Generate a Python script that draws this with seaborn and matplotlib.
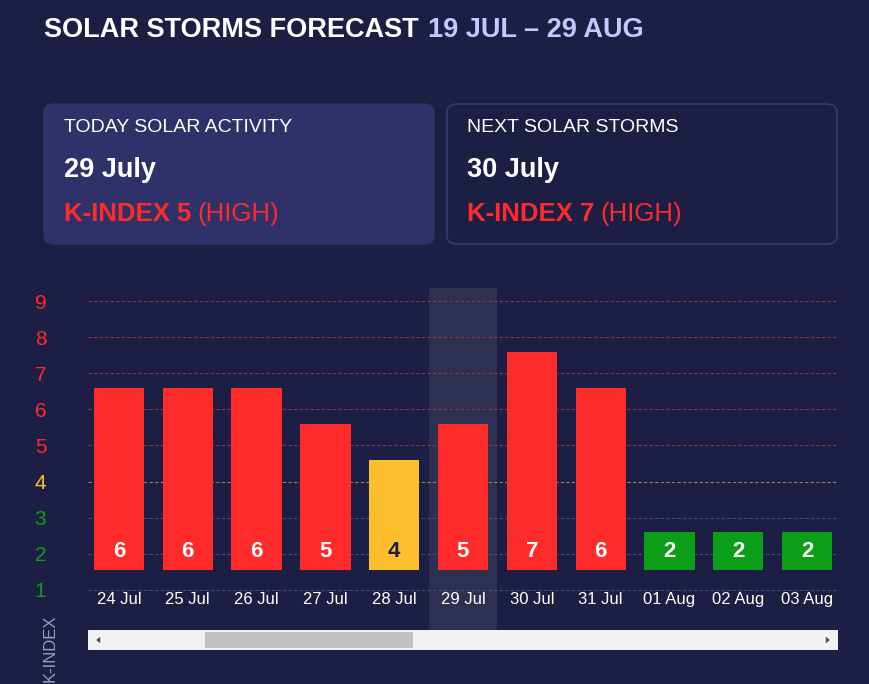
import numpy as np
import pandas as pd
import matplotlib.pyplot as plt
import seaborn as sns
from matplotlib.patches import FancyBboxPatch, Rectangle, Polygon

# chart data
dates = ['24 Jul', '25 Jul', '26 Jul', '27 Jul', '28 Jul', '29 Jul',
         '30 Jul', '31 Jul', '01 Aug', '02 Aug', '03 Aug']
kindex = [6, 6, 6, 5, 4, 5, 7, 6, 2, 2, 2]
today_idx = 5
levels = [1, 2, 3, 4, 5, 6, 7, 8, 9]

BG = '#1c1f43'
RED = '#ff2b2b'
YEL = '#fdbf2d'
GRN = '#0c9e16'

def level_color(k):
    if k >= 5:
        return RED
    if k == 4:
        return YEL
    return GRN

W, H = 869, 684
sns.set_theme(style='dark')
plt.rcParams['font.family'] = ['Liberation Sans', 'DejaVu Sans']
fig = plt.figure(figsize=(W / 100, H / 100), dpi=100, facecolor=BG)

def px_rect(x0, y0, x1, y1):
    return [x0 / W, 1 - y1 / H, (x1 - x0) / W, (y1 - y0) / H]

# title
t = fig.text(44 / W, 1 - 30 / H, 'SOLAR STORMS FORECAST', color='white',
             fontsize=19.5, fontweight='bold', va='center')
fig.canvas.draw()
bb = t.get_window_extent()
fig.text((bb.x1 + 9) / W, 1 - 30 / H, '19 JUL – 29 AUG', color='#c5c8ff',
         fontsize=19.5, fontweight='bold', va='center')

# cards
cards = [(44, 434, 'TODAY SOLAR ACTIVITY', '29 July', '5', '#2e3268', '#2e3268'),
         (447, 837, 'NEXT SOLAR STORMS', '30 July', '7', BG, '#3a3f72')]
for x0, x1, head, day, k, fc, ec in cards:
    fig.patches.append(FancyBboxPatch((x0 / W, 1 - 244 / H), (x1 - x0) / W, 140 / H,
                                      boxstyle='round,pad=0,rounding_size=0.012',
                                      transform=fig.transFigure, fc=fc, ec=ec, lw=1))
    fig.text((x0 + 20) / W, 1 - 128 / H, head, color='white', fontsize=14, va='center')
    fig.text((x0 + 20) / W, 1 - 170 / H, day, color='white', fontsize=19.5,
             fontweight='bold', va='center')
    t = fig.text((x0 + 20) / W, 1 - 214 / H, f'K-INDEX {k}', color=RED, fontsize=18.5,
                 fontweight='bold', va='center')
    fig.canvas.draw()
    bb = t.get_window_extent()
    fig.text((bb.x1 + 6) / W, 1 - 214 / H, '(HIGH)', color=RED, fontsize=18.5, va='center')

# chart axes: y in K-index units, bars start at 1.55
base = 1.55
ax = fig.add_axes(px_rect(88, 288, 838, 630))
ax.set_facecolor(BG)

for k in levels:
    gc = {RED: '#9a2f48', YEL: '#9a8548', GRN: '#4a4d68'}[level_color(k)]
    ax.axhline(k, color=gc, ls=(0, (3, 2)), lw=0.8, zorder=1)

df = pd.DataFrame({'date': dates, 'h': [v + 0.6 - base for v in kindex], 'k': kindex})
sns.barplot(data=df, x='date', y='h', hue='date',
            palette=[level_color(v) for v in kindex], width=0.73,
            legend=False, ax=ax, zorder=2, saturation=1, edgecolor='none', linewidth=0)
for p in ax.patches:
    p.set_y(p.get_y() + base)

ax.axvspan(today_idx - 0.5, today_idx + 0.5, color='white', alpha=0.08, lw=0, zorder=0.5)
ax.set_xlim(-0.45, len(dates) - 0.55)
ax.set_ylim(1 - 40 / 36, 9 + 13 / 36)

for i, (d, v) in enumerate(zip(dates, kindex)):
    ax.text(i, 2.05, str(v), ha='center', va='center', fontsize=16, fontweight='bold',
            color='#1c1f43' if v == 4 else 'white', zorder=3)
    ax.text(i, 0.72, d, ha='center', va='center', fontsize=12, color='white')

ax.set_xticks([])
ax.set_yticks(levels)
ax.set_yticklabels([str(k) for k in levels], fontsize=15)
for lab, k in zip(ax.get_yticklabels(), levels):
    lab.set_color(level_color(k))
ax.tick_params(axis='y', length=0, pad=30)
ax.set_xlabel('')
ax.set_ylabel('')
for s in ax.spines.values():
    s.set_visible(False)

fig.text(50 / W, 1 - 648 / H, 'K-INDEX', rotation=90, color='#9a9db8',
         fontsize=12, ha='center', va='center')

# scrollbar
fig.patches.append(Rectangle((88 / W, 1 - 650 / H), 750 / W, 20 / H,
                             transform=fig.transFigure, fc='#f1f1f1', ec='none'))
fig.patches.append(Rectangle((205 / W, 1 - 648 / H), 208 / W, 16 / H,
                             transform=fig.transFigure, fc='#c1c1c1', ec='none'))
fig.patches.append(Polygon([(95 / W, 1 - 640 / H), (101 / W, 1 - 635 / H), (101 / W, 1 - 645 / H)],
                           transform=fig.transFigure, fc='#505050'))
fig.patches.append(Polygon([(831 / W, 1 - 640 / H), (825 / W, 1 - 635 / H), (825 / W, 1 - 645 / H)],
                           transform=fig.transFigure, fc='#505050'))

fig.savefig('out.png', dpi=100, facecolor=BG)
